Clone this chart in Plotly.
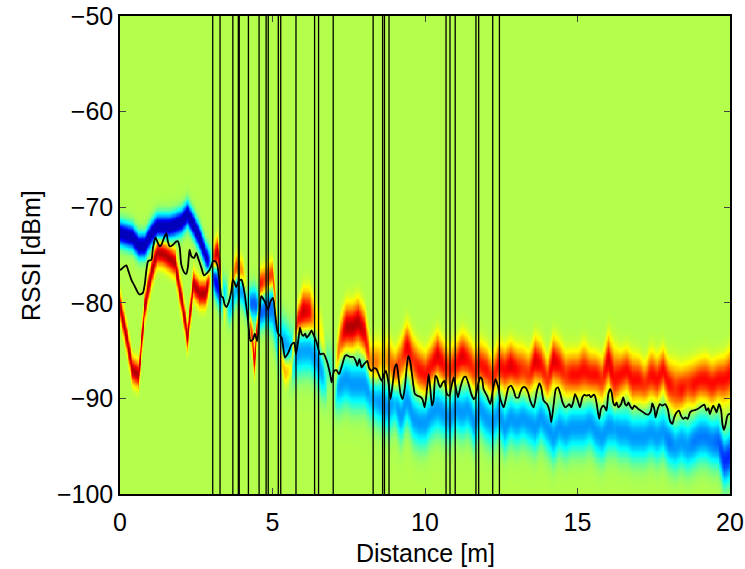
import numpy as np
import plotly.graph_objects as go

# ---------------- data ----------------
# mean RSSI trace (distance [m], RSSI [dBm])
mean_x = [0.0, 0.15, 0.21, 0.26, 0.37, 0.48, 0.59, 0.64, 0.75, 0.81, 0.92, 1.03, 1.08, 1.16, 1.22, 1.30,
          1.36, 1.44, 1.52, 1.57, 1.63, 1.74, 1.85, 1.90, 1.96, 2.01, 2.12, 2.17, 2.23, 2.28, 2.34, 2.43,
          2.50, 2.56, 2.67, 2.75, 2.86, 2.97, 3.05, 3.13, 3.19, 3.27, 3.32, 3.38, 3.43, 3.49, 3.56, 3.65,
          3.70, 3.76, 3.81, 3.89, 3.98, 4.03, 4.09, 4.20, 4.28, 4.36, 4.42, 4.50, 4.58, 4.63, 4.74, 4.85,
          4.94, 5.02, 5.09, 5.16, 5.19, 5.30, 5.41, 5.52, 5.63, 5.71, 5.77, 5.85, 5.90, 5.96, 6.01, 6.07,
          6.12, 6.21, 6.28, 6.34, 6.45, 6.56, 6.67, 6.78, 6.89, 6.94, 7.02, 7.10, 7.18, 7.26, 7.38, 7.45,
          7.54, 7.65, 7.73, 7.78, 7.85, 7.92, 8.00, 8.11, 8.16, 8.25, 8.33, 8.41, 8.50, 8.58, 8.66, 8.72,
          8.80, 8.87, 8.94, 9.01, 9.07, 9.12, 9.20, 9.27, 9.34, 9.40, 9.45, 9.51, 9.60, 9.67, 9.75, 9.84,
          9.92, 9.99, 10.07, 10.12, 10.17, 10.23, 10.28, 10.34, 10.39, 10.45, 10.50, 10.58, 10.64, 10.72,
          10.80, 10.86, 10.94, 10.99, 11.08, 11.16, 11.27, 11.34, 11.43, 11.52, 11.60, 11.65, 11.74, 11.81,
          11.87, 11.92, 12.03, 12.14, 12.22, 12.31, 12.39, 12.47, 12.58, 12.66, 12.74, 12.83, 12.91, 12.98,
          13.07, 13.12, 13.20, 13.29, 13.38, 13.45, 13.56, 13.67, 13.75, 13.81, 13.89, 14.00, 14.08, 14.14,
          14.22, 14.29, 14.36, 14.44, 14.51, 14.60, 14.68, 14.73, 14.80, 14.87, 14.92, 15.01, 15.08, 15.16,
          15.22, 15.30, 15.38, 15.44, 15.52, 15.57, 15.63, 15.71, 15.77, 15.85, 15.90, 15.95, 16.01, 16.07,
          16.12, 16.17, 16.23, 16.28, 16.34, 16.43, 16.50, 16.56, 16.61, 16.67, 16.72, 16.80, 16.86, 16.94,
          16.99, 17.08, 17.16, 17.23, 17.32, 17.41, 17.45, 17.52, 17.56, 17.63, 17.70, 17.78, 17.87, 17.96,
          18.03, 18.11, 18.17, 18.25, 18.33, 18.39, 18.47, 18.54, 18.61, 18.69, 18.76, 18.85, 18.94, 19.01,
          19.09, 19.16, 19.23, 19.29, 19.34, 19.40, 19.45, 19.51, 19.56, 19.64, 19.71, 19.75, 19.80, 19.86,
          19.90, 19.94, 20.0]
mean_db = [-76.6, -76.18, -76.08, -76.53, -77.57, -78.26, -78.96, -79.13, -78.96, -78.09, -75.66, -75.49,
           -74.27, -73.16, -73.58, -74.10, -73.92, -73.23, -72.71, -73.58, -74.10, -73.92, -73.58, -73.58,
           -74.27, -76.01, -76.88, -76.98, -76.18, -74.44, -75.14, -75.31, -74.79, -75.31, -76.35, -77.12,
           -76.88, -76.35, -75.66, -75.66, -76.01, -78.09, -79.31, -79.48, -80.17, -80.45, -80.00, -78.78,
           -77.57, -77.92, -78.37, -77.74, -77.57, -78.09, -79.13, -81.91, -84.0, -83.82, -83.23, -84.0,
           -80.87, -79.31, -79.83, -80.69, -79.83, -79.48, -81.22, -83.0, -83.23, -83.65, -85.73, -85.21,
           -84.34, -84.17, -85.38, -83.82, -82.60, -83.30, -83.47, -83.23, -83.65, -83.30, -82.88, -83.30,
           -84.17, -85.38, -85.31, -86.08, -87.47, -88.33, -87.12, -87.05, -87.47, -86.77, -85.56, -85.49,
           -85.66, -85.66, -86.08, -86.60, -85.90, -86.77, -86.42, -86.08, -86.77, -87.12, -86.84, -86.95,
           -87.64, -88.16, -87.47, -87.12, -88.33, -90.07, -88.51, -86.77, -86.42, -87.47, -89.55, -90.07,
           -88.85, -86.77, -85.56, -86.08, -88.16, -89.55, -89.72, -89.83, -90.1, -90.94, -88.85, -87.47,
           -88.85, -90.76, -90.24, -87.64, -87.81, -88.51, -88.85, -88.33, -88.16, -89.55, -89.72, -88.85,
           -87.81, -88.51, -89.90, -88.85, -87.81, -87.74, -88.51, -89.55, -90.07, -89.90, -88.51, -87.81,
           -87.99, -89.03, -89.72, -90.59, -89.20, -87.99, -88.68, -90.07, -90.94, -89.90, -88.85, -88.68,
           -89.20, -89.90, -89.90, -89.38, -88.85, -88.85, -89.38, -90.24, -90.94, -89.20, -88.44, -88.85,
           -90.24, -90.59, -91.28, -92.50, -90.59, -89.03, -88.85, -89.55, -90.42, -90.94, -90.76, -90.59,
           -90.94, -90.24, -89.55, -90.24, -90.94, -89.90, -89.62, -89.72, -89.62, -89.90, -89.62, -89.72,
           -90.59, -92.15, -91.11, -90.76, -90.94, -91.28, -89.55, -89.03, -89.38, -90.42, -90.76, -90.42,
           -90.94, -90.59, -89.90, -90.59, -90.76, -90.42, -90.76, -91.11, -90.76, -90.94, -91.11, -91.28,
           -91.46, -91.63, -91.70, -91.28, -90.52, -91.11, -91.98, -91.11, -90.59, -90.76, -90.59, -91.11,
           -92.33, -92.67, -91.98, -91.46, -91.28, -91.80, -92.15, -91.98, -92.15, -91.46, -91.28, -91.22,
           -91.11, -90.94, -90.76, -90.66, -91.28, -91.01, -91.63, -91.11, -90.76, -91.11, -91.46, -90.59,
           -91.28, -92.67, -93.30, -92.67, -91.98, -91.70, -91.6]

# distribution bands, sampled every 0.2 m from 0 to 20 m
band_x = [round(0.2 * i, 1) for i in range(101)]
# stronger-than-mean band (red) : centre [dBm], relative intensity, spread [dB]
red_db = [-80.5, -83.5, -87.0, -87.5, -80.5, -77.0, -74.7, -74.8, -75.3, -75.8,
          -79.5, -83.5, -78.0, -79.0, -79.0, -76.0, -74.5, -80.5, -79.0, -76.5,
          -77.0, -80.0, -86.0, -78.0, -77.5, -77.0, -84.5, -87.0, -86.5, -82.0,
          -81.0, -81.0, -82.0, -84.0, -88.0, -89.0, -84.0, -82.5, -82.5, -82.0,
          -83.0, -86.5, -86.5, -86.0, -86.0, -87.5, -86.0, -84.5, -86.0, -87.0,
          -87.5, -86.5, -85.5, -86.5, -87.0, -86.5, -85.5, -86.0, -87.0, -86.5,
          -87.0, -88.0, -86.5, -87.0, -86.5, -87.0, -87.0, -87.5, -86.0, -86.5,
          -88.0, -86.0, -86.5, -87.5, -87.5, -87.5, -87.0, -87.5, -87.5, -88.0,
          -86.0, -88.0, -87.5, -87.0, -88.0, -88.0, -88.5, -87.5, -88.0, -87.0,
          -88.5, -89.0, -89.0, -88.5, -88.5, -88.0, -88.0, -88.5, -88.0, -88.0, -87.5]
red_int = [1.0, 1.0, 1.0, 1.0, 1.0, 1.0, 1.0, 1.0, 1.0, 1.0,
           1.0, 1.0, 1.0, 1.0, 1.0, 1.0, 1.0, 0.8, 0.6, 0.9,
           0.7, 0.5, 0.9, 0.8, 0.6, 0.8, 0.8, 0.6, 0.7, 0.9,
           1.0, 0.9, 0.3, 0.3, 0.5, 0.6, 0.6, 1.0, 1.0, 1.0,
           0.9, 0.6, 0.6, 0.3, 0.5, 0.8, 0.6, 0.9, 0.7, 0.8,
           0.8, 0.8, 0.9, 0.8, 0.7, 0.8, 0.9, 0.8, 0.7, 0.8,
           0.8, 0.7, 0.8, 0.8, 0.9, 0.8, 0.7, 0.7, 0.9, 0.8,
           0.7, 0.9, 0.8, 0.7, 0.8, 0.8, 0.8, 0.8, 0.8, 0.7,
           0.9, 0.8, 0.8, 0.8, 0.8, 0.8, 0.7, 0.8, 0.8, 0.8,
           0.8, 0.7, 0.8, 0.7, 0.8, 0.8, 0.8, 0.8, 0.8, 0.8, 0.8]
red_sd = ([0.9] * 15 + [1.0] * 15 + [1.5] * 46
          + [1.7, 1.5, 1.4, 1.5, 1.6, 2.0, 1.5, 1.4, 1.6, 1.5, 1.4, 1.6, 1.5, 1.4, 1.5, 1.7, 1.5,
             1.4, 1.5, 1.4, 1.5, 1.5, 1.4, 1.5, 1.6])
# weaker-than-mean band (blue)
blue_db = [-72.7, -72.9, -73.1, -74.0, -74.0, -72.8, -72.0, -72.0, -72.0, -71.8,
           -71.5, -70.7, -71.8, -73.2, -75.0, -76.6, -78.3, -79.5, -80.0, -78.0,
           -78.5, -80.2, -80.0, -81.0, -80.5, -80.5, -84.0, -84.5, -85.5, -85.0,
           -84.8, -84.8, -85.5, -87.0, -87.5, -88.5, -88.5, -88.0, -88.5, -88.5,
           -88.5, -89.5, -90.0, -90.5, -91.0, -90.0, -92.0, -90.0, -92.0, -92.5,
           -92.5, -91.5, -91.0, -91.5, -92.0, -91.0, -91.5, -91.0, -92.5, -91.0,
           -92.0, -92.5, -91.5, -93.0, -92.0, -92.5, -92.0, -92.5, -93.0, -92.0,
           -93.0, -94.0, -93.0, -93.5, -93.0, -93.0, -93.0, -92.5, -93.5, -94.0,
           -93.0, -93.0, -93.5, -93.5, -94.0, -94.0, -94.0, -93.5, -94.0, -93.5,
           -94.5, -95.0, -94.5, -95.0, -94.5, -94.0, -94.0, -94.5, -94.5, -96.5, -96.0]
blue_int = ([1.0] * 14 + [0.9, 0.85, 0.8, 0.7, 0.6, 0.6,
            0.6, 0.6, 0.6, 0.6, 0.6, 0.55] + [0.5] * 64
            + [0.55, 0.5, 0.5, 0.5, 0.55, 0.55, 0.55, 0.55, 0.6, 0.7, 0.7])
blue_sd = [0.9] * 15 + [1.2] * 10 + [1.8] * 76

# sensor / anchor positions (vertical markers) [m]
marker_x = [3.04, 3.28, 3.70, 3.88, 3.91, 4.21, 4.56, 4.79, 4.86, 5.19, 5.27, 5.77, 6.38, 6.51, 6.99,
            8.30, 8.61, 8.67, 8.82, 10.69, 10.82, 10.99, 11.67, 11.76, 12.22, 12.44]

# ---------------- build density image ----------------
n = min(len(band_x), len(red_db), len(red_int), len(red_sd), len(blue_db), len(blue_int), len(blue_sd))
bx = np.array(band_x[:n])
col_x = np.linspace(0.0, 20.0, 801)          # rendering columns of the image
y_grid = np.arange(-100.0, -49.99, 0.125)     # rendering rows of the image


def on_cols(v):
    return np.interp(col_x, bx, np.array(v[:n], dtype=float))


RC, RI, RS = on_cols(red_db), on_cols(red_int), on_cols(red_sd)
BC, BI, BS = on_cols(blue_db), on_cols(blue_int), on_cols(blue_sd)
Y = y_grid[:, None]
z = (0.55
     + 0.40 * RI[None, :] * np.exp(-0.5 * ((Y - RC[None, :]) / RS[None, :]) ** 2)
     - 0.55 * BI[None, :] * np.exp(-0.5 * ((Y - BC[None, :]) / BS[None, :]) ** 2))
z = np.round(np.clip(z, 0.06, 0.96), 3)

jet = [[0.0, "rgb(0,0,128)"], [0.125, "rgb(0,0,255)"], [0.375, "rgb(0,255,255)"],
       [0.625, "rgb(255,255,0)"], [0.875, "rgb(255,0,0)"], [1.0, "rgb(128,0,0)"]]

m = min(len(mean_x), len(mean_db))

fig = go.Figure()
fig.add_trace(go.Heatmap(x=col_x, y=y_grid, z=z, colorscale=jet, zmin=0, zmax=1,
                         zsmooth="best", showscale=False, hoverinfo="skip"))
for mx in marker_x:
    fig.add_vline(x=mx, line=dict(color="black", width=1.3))
fig.add_trace(go.Scatter(x=mean_x[:m], y=mean_db[:m], mode="lines",
                         line=dict(color="black", width=1.8, shape="spline", smoothing=0.6),
                         showlegend=False))

FONT = "Liberation Sans, Arial, Helvetica, sans-serif"
axis_font = dict(family=FONT, size=25, color="black")
fig.update_layout(
    width=745, height=569,
    margin=dict(l=120, r=15, t=16, b=75),
    paper_bgcolor="white", plot_bgcolor="white",
    showlegend=False,
    font=axis_font,
)
fig.update_xaxes(range=[0, 20], tickvals=[0, 5, 10, 15, 20], ticks="inside", ticklen=6,
                 showline=True, linecolor="black", linewidth=1.5, mirror="ticks",
                 showgrid=False, zeroline=False, tickfont=axis_font, automargin=False,
                 ticklabelstandoff=5, ticklabeloverflow="allow")
fig.update_yaxes(range=[-100, -50], tickvals=[-100, -90, -80, -70, -60, -50], ticks="inside", ticklen=6,
                 showline=True, linecolor="black", linewidth=1.5, mirror="ticks",
                 showgrid=False, zeroline=False, tickfont=axis_font, automargin=False,
                 ticklabelstandoff=0, ticklabeloverflow="allow")
fig.add_annotation(text="Distance [m]", xref="paper", yref="paper", x=0.5, y=-0.123,
                   xanchor="center", yanchor="middle", showarrow=False, font=axis_font)
fig.add_annotation(text="RSSI [dBm]", xref="paper", yref="paper", x=-0.146, y=0.5,
                   xanchor="center", yanchor="middle", textangle=-90, showarrow=False, font=axis_font)

# remove the default 8 px page margin so the figure fills the window exactly
fig.write_html("out.html", config={"displayModeBar": False},
               post_script="document.body.style.margin='0';document.body.style.overflow='hidden';")
